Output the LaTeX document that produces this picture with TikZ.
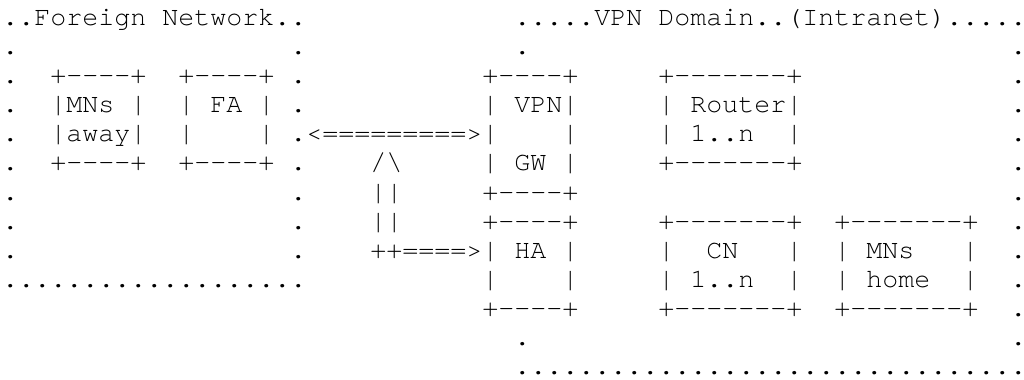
\documentclass[tikz,border=0pt]{standalone}
\usepackage{fontspec}
\usepackage{tikz}
\newfontfamily\termfont[Ligatures=TeXOff]{TeX Gyre Cursor}
% one character cell is 8pt wide, spaces included
\newcommand\asciifont{\fontsize{13.333pt}{14.55pt}\termfont
  \fontdimen2\font=8pt\fontdimen3\font=0pt\fontdimen4\font=0pt\relax}

\begin{document}
\begin{tikzpicture}[
  x=8pt, y=-14.55pt,
  every node/.style={font=\asciifont, inner sep=0pt, anchor=base west}
]
\useasboundingbox (-0.125,0.124) rectangle (63.875,13.182);
% foreign network frame
\node (fnTtl) at (0,1) {..Foreign\ Network..};
\foreach \r in {2,...,9} {
  \node (fnL\r) at (0,\r) {.};
  \node (fnR\r) at (18,\r) {.};
}
\node (fnBot) at (0,10) {...................};
% vpn domain frame
\node (vdTtl) at (32,1) {.....VPN\ Domain..(Intranet).....};
\node (vdL2) at (32,2) {.};
\node (vdL12) at (32,12) {.};
\foreach \r in {2,...,12}
  \node (vdR\r) at (63,\r) {.};
\node (vdBot) at (32,13) {................................};
% mobile node away
\node (mnaT) at (3,3) {+----+};
\node (mna1) at (3,4) {|MNs\ |};
\node (mna2) at (3,5) {|away|};
\node (mnaB) at (3,6) {+----+};
% foreign agent
\node (faT) at (11,3) {+----+};
\node (fa1) at (11,4) {|\ FA\ |};
\node (fa2) at (11,5) {|\ \ \ \ |};
\node (faB) at (11,6) {+----+};
% vpn gateway
\node (gwT) at (30,3) {+----+};
\node (gw1) at (30,4) {|\ VPN|};
\node (gw2) at (30,5) {|\ \ \ \ |};
\node (gw3) at (30,6) {|\ GW\ |};
\node (gwB) at (30,7) {+----+};
% home agent
\node (haT) at (30,8) {+----+};
\node (ha1) at (30,9) {|\ HA\ |};
\node (ha2) at (30,10) {|\ \ \ \ |};
\node (haB) at (30,11) {+----+};
% routers
\node (rtT) at (41,3) {+-------+};
\node (rt1) at (41,4) {|\ Router|};
\node (rt2) at (41,5) {|\ 1..n\ \ |};
\node (rtB) at (41,6) {+-------+};
% correspondent nodes
\node (cnT) at (41,8) {+-------+};
\node (cn1) at (41,9) {|\ \ CN\ \ \ |};
\node (cn2) at (41,10) {|\ 1..n\ \ |};
\node (cnB) at (41,11) {+-------+};
% mobile nodes at home
\node (mnhT) at (52,8) {+-------+};
\node (mnh1) at (52,9) {|\ MNs\ \ \ |};
\node (mnh2) at (52,10) {|\ home\ \ |};
\node (mnhB) at (52,11) {+-------+};
% tunnels
\node (tun) at (19,5) {<=========>};
\node (upTip) at (23,6) {/\textbackslash};
\node (up1) at (23,7) {||};
\node (up2) at (23,8) {||};
\node (toHa) at (23,9) {++====>};
\end{tikzpicture}
\end{document}
